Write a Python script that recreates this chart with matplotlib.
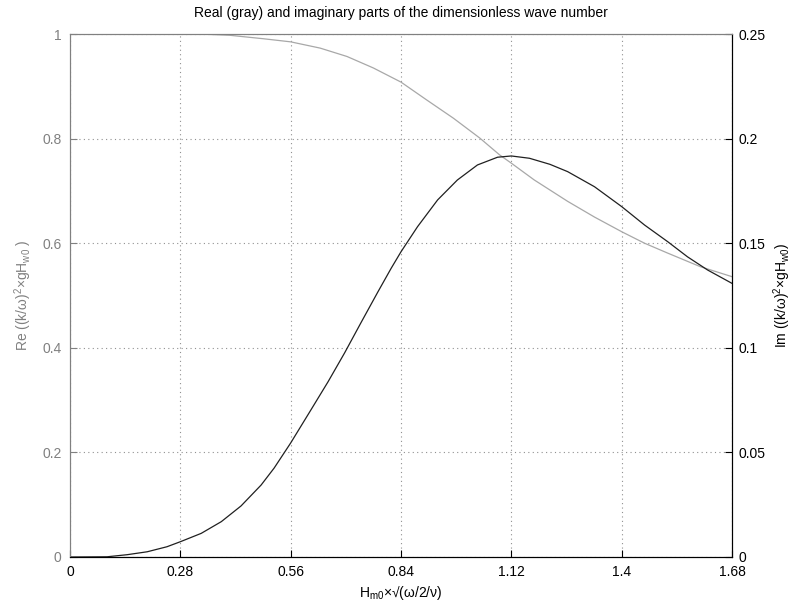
import numpy as np
import matplotlib
matplotlib.use("Agg")
import matplotlib.pyplot as plt

plt.rcParams['font.family'] = ['Liberation Sans', 'DejaVu Sans']
plt.rcParams['mathtext.fontset'] = 'custom'
plt.rcParams['mathtext.rm'] = 'Liberation Sans'
plt.rcParams['mathtext.it'] = 'Liberation Sans'
plt.rcParams['mathtext.default'] = 'regular'

x_re = [0.0, 0.20, 0.33, 0.406, 0.49, 0.56, 0.635, 0.703, 0.77, 0.84, 0.905,
        0.973, 1.04, 1.09, 1.12, 1.178, 1.263, 1.331, 1.40, 1.458, 1.517,
        1.60, 1.68]
re = [1.0, 1.0, 1.0, 0.9975, 0.991, 0.985, 0.973, 0.957, 0.935, 0.908, 0.874,
      0.839, 0.801, 0.769, 0.753, 0.721, 0.680, 0.650, 0.622, 0.600, 0.581,
      0.555, 0.536]

x_im = [0.0, 0.094, 0.145, 0.196, 0.246, 0.28, 0.333, 0.384, 0.434, 0.485,
        0.518, 0.56, 0.612, 0.655, 0.697, 0.739, 0.781, 0.815, 0.84, 0.882,
        0.933, 0.983, 1.034, 1.085, 1.12, 1.166, 1.218, 1.263, 1.331, 1.40,
        1.458, 1.517, 1.567, 1.618, 1.68]
im = [0.0, 0.0001, 0.0011, 0.0025, 0.0049, 0.0073, 0.0113, 0.0169, 0.0244,
      0.0344, 0.0425, 0.0545, 0.0705, 0.0838, 0.0976, 0.1122, 0.1266, 0.138,
      0.1459, 0.1579, 0.1707, 0.1802, 0.1874, 0.1911, 0.1917, 0.1906, 0.1877,
      0.1842, 0.177, 0.1675, 0.1587, 0.1507, 0.1435, 0.1372, 0.1308]

xticks = [0, 0.28, 0.56, 0.84, 1.12, 1.4, 1.68]
xtick_labels = ['0', '0.28', '0.56', '0.84', '1.12', '1.4', '1.68']
re_ticks = [0, 0.2, 0.4, 0.6, 0.8, 1]
re_labels = ['0', '0.2', '0.4', '0.6', '0.8', '1']
im_ticks = [0, 0.05, 0.1, 0.15, 0.2, 0.25]
im_labels = ['0', '0.05', '0.1', '0.15', '0.2', '0.25']

gray = '#808080'

fig = plt.figure(figsize=(7.97, 6.04), dpi=100)
ax = fig.add_axes([70/797, 47/604, 662/797, 523/604])
ax2 = ax.twinx()

ax.plot(x_re, re, color='#a8a8a8', lw=0.9)
ax2.plot(x_im, im, color='#202020', lw=0.9)

ax.set_xlim(0, 1.68)
ax.set_ylim(0, 1)
ax2.set_ylim(0, 0.25)
ax.set_xticks(xticks)
ax.set_xticklabels(xtick_labels)
ax.set_yticks(re_ticks)
ax.set_yticklabels(re_labels)
ax2.set_yticks(im_ticks)
ax2.set_yticklabels(im_labels)

ax.grid(True, linestyle=(0, (1, 3)), color='#909090', lw=0.8)

ax.tick_params(axis='both', direction='in', length=5, labelsize=10, width=0.8)
ax.tick_params(axis='y', colors=gray, pad=6)
ax.tick_params(axis='x', colors='black', labelcolor='black', pad=6)
ax2.tick_params(axis='y', direction='in', length=5, labelsize=10, width=0.8,
                pad=5)
for s in ['left', 'top']:
    ax.spines[s].set_color(gray)
    ax2.spines[s].set_color(gray)
ax2.spines['bottom'].set_color('black')

ax.set_ylabel(r'Re ((k/ω)$^2$×gH$_{w0}$ )', color=gray, fontsize=10, labelpad=6)
ax2.set_ylabel(r'Im ((k/ω)$^2$×gH$_{w0}$)', color='black', fontsize=10, labelpad=4)
ax.set_xlabel(r'H$_{m0}$×√(ω/2/ν)', fontsize=10, labelpad=3)
ax.set_title('Real (gray) and imaginary parts of the dimensionless wave number',
             fontsize=10, pad=12)

fig.savefig('out.png', dpi=100)
